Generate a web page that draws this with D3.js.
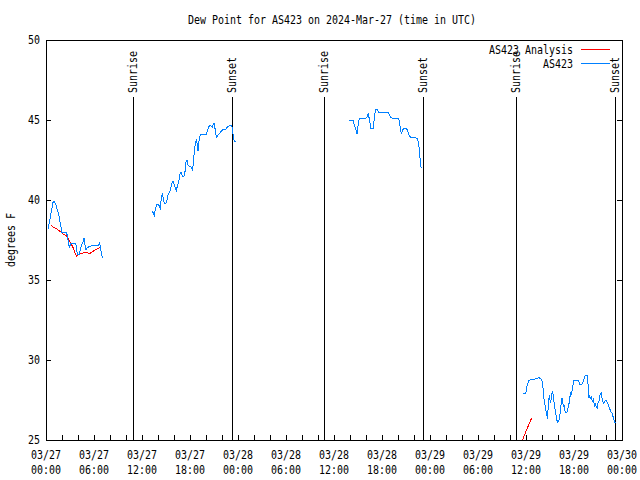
<!DOCTYPE html>
<html>
<head>
<meta charset="utf-8">
<script src="https://cdn.jsdelivr.net/npm/d3@7"></script>
<style>
  body { margin: 0; background: #fff; }
  text { font-family: "DejaVu Sans Mono", monospace; font-size: 12px; fill: #000; }
</style>
</head>
<body>
<svg id="chart" width="640" height="480"></svg>
<script>
const startTime = Date.UTC(2024, 2, 27, 0, 0);
const endTime = Date.UTC(2024, 2, 30, 0, 0);

// hours after 03/27 00:00 UTC, dew point in F
const obsHours1 = [0.25, 0.5, 0.875, 1.0, 1.25, 1.41, 1.63, 1.75, 1.88, 1.96, 2.54, 2.66, 2.79, 2.91, 3.09, 3.71, 3.84, 3.91, 4.16, 4.34, 4.63, 4.75, 4.91, 5.0, 5.16, 5.38, 5.79, 6.41, 6.63, 6.71, 6.84, 6.91, 7.04];
const obsDew1 = [38.17, 38.8, 39.86, 39.9, 39.7, 39.4, 39.0, 38.6, 38.3, 37.96, 37.96, 37.8, 37.4, 37.0, 37.3, 37.3, 36.9, 36.6, 36.6, 37.0, 37.4, 37.6, 37.1, 36.9, 37.0, 37.1, 37.15, 37.15, 37.2, 37.3, 37.0, 36.7, 36.4];

const obsHours2 = [13.25, 13.41, 13.54, 13.66, 13.84, 14.09, 14.21, 14.29, 14.41, 14.54, 14.66, 14.79, 15.0, 15.13, 15.29, 15.46, 15.59, 15.75, 15.88, 16.0, 16.16, 16.29, 16.41, 16.54, 16.66, 16.75, 16.88, 17.04, 17.25, 17.38, 17.5, 17.63, 17.75, 17.96, 18.16, 18.29, 18.41, 18.5, 18.59, 18.71, 18.84, 18.91, 19.0, 19.09, 19.16, 19.29, 20.04, 20.16, 20.29, 20.46, 20.66, 20.79, 20.88, 21.0, 21.13, 21.25, 21.34, 21.41, 21.59, 21.75, 21.91, 22.09, 22.41, 22.59, 22.75, 23.0, 23.16, 23.29, 23.41, 23.54, 23.79];
const obsDew2 = [39.29, 39.19, 39.04, 39.4, 39.7, 39.7, 39.54, 39.46, 40.1, 40.4, 40.1, 39.8, 39.8, 40.0, 40.4, 40.5, 40.75, 41.06, 41.2, 41.0, 40.75, 40.58, 40.86, 41.06, 41.33, 41.6, 41.75, 41.48, 41.48, 41.79, 42.4, 42.48, 42.2, 42.1, 42.04, 41.9, 42.2, 42.8, 43.25, 43.6, 43.83, 43.35, 43.08, 43.56, 43.77, 44.1, 44.1, 44.3, 44.5, 44.67, 44.6, 44.54, 44.7, 44.8, 44.46, 44.08, 43.88, 44.04, 44.1, 44.19, 44.3, 44.4, 44.4, 44.5, 44.6, 44.67, 44.67, 44.5, 43.98, 43.67, 43.67];

const obsHours3 = [37.88, 38.21, 38.38, 38.5, 38.63, 38.75, 38.88, 38.96, 39.04, 39.16, 39.88, 40.09, 40.21, 40.29, 40.38, 40.5, 40.63, 40.88, 41.0, 41.09, 41.21, 41.41, 41.54, 41.71, 42.79, 42.91, 43.09, 43.41, 44.04, 44.16, 44.29, 44.41, 44.54, 44.66, 45.09, 45.21, 45.34, 45.59, 46.04, 46.38, 46.5, 46.59, 46.66, 46.75, 46.84, 46.91];
const obsDew3 = [45.0, 45.0, 44.96, 44.73, 44.58, 44.38, 44.1, 44.48, 44.79, 45.1, 45.1, 45.15, 45.27, 45.42, 45.15, 44.79, 44.44, 44.44, 44.9, 45.36, 45.64, 45.64, 45.52, 45.44, 45.44, 45.36, 45.15, 45.1, 45.1, 44.94, 44.48, 44.17, 44.31, 44.44, 44.44, 44.31, 44.1, 43.9, 43.9, 43.85, 43.69, 43.48, 43.13, 42.6, 42.19, 41.98];

const obsHours4 = [59.63, 59.84, 60.0, 60.16, 60.34, 60.5, 60.75, 61.09, 61.41, 61.59, 61.75, 61.91, 62.04, 62.13, 62.21, 62.34, 62.46, 62.59, 62.66, 62.75, 62.84, 62.91, 63.0, 63.09, 63.16, 63.25, 63.34, 63.41, 63.5, 63.59, 63.66, 63.79, 63.91, 64.0, 64.09, 64.21, 64.34, 64.41, 64.5, 64.59, 64.66, 64.75, 64.84, 64.91, 65.09, 65.25, 65.38, 65.5, 65.59, 65.66, 65.79, 65.91, 66.0, 66.34, 66.5, 66.63, 66.75, 66.91, 67.09, 67.21, 67.34, 67.5, 67.63, 67.71, 67.79, 67.88, 67.96, 68.04, 68.16, 68.29, 68.41, 68.5, 68.59, 68.66, 68.79, 68.91, 69.0, 69.13, 69.25, 69.38, 69.46, 69.59, 69.71, 69.84, 70.0, 70.16, 70.34, 70.46, 70.59, 70.75, 70.88, 71.0, 71.09, 71.29];
const obsDew4 = [27.92, 27.88, 28.02, 28.44, 28.71, 28.75, 28.79, 28.81, 28.85, 28.92, 28.85, 28.79, 28.64, 28.23, 27.71, 27.29, 26.88, 26.67, 26.29, 26.88, 27.4, 27.81, 27.5, 27.33, 27.6, 27.92, 28.02, 27.75, 27.4, 27.08, 26.77, 26.46, 26.08, 26.25, 26.15, 26.46, 26.98, 27.4, 27.6, 27.4, 27.08, 27.19, 26.98, 26.71, 26.71, 26.98, 27.29, 27.71, 28.02, 27.81, 28.13, 28.54, 28.75, 28.71, 28.75, 28.64, 28.44, 28.44, 28.54, 28.75, 29.0, 29.06, 29.06, 28.75, 28.23, 27.6, 27.81, 27.54, 27.75, 27.4, 27.54, 27.29, 27.08, 27.29, 27.04, 26.98, 27.29, 27.46, 27.81, 27.96, 27.71, 27.4, 27.29, 27.4, 27.5, 27.33, 27.13, 26.98, 26.77, 26.67, 26.46, 26.25, 26.08, 26.08];

const anaHours1 = [0.66, 1.0, 1.41, 1.84, 2.16, 2.46, 2.75, 3.09, 3.41, 3.71, 3.84, 4.04, 4.34, 4.75, 5.16, 5.5, 5.79, 6.21, 6.63, 6.84];
const anaDew1 = [38.4, 38.27, 38.17, 38.0, 37.86, 37.8, 37.6, 37.3, 37.0, 36.6, 36.5, 36.6, 36.67, 36.7, 36.7, 36.67, 36.77, 36.9, 37.0, 37.1];

const anaHours2 = [59.5, 60.0, 60.69];
const anaDew2 = [24.9, 25.55, 26.35];

const sunriseHours = [10.9, 34.75, 58.75];
const sunsetHours = [23.25, 47.125, 71.15];
const yTicks = [25, 30, 35, 40, 45, 50];

const RED = "#ff0000";
const BLUE = "#0080ff";

const width = 640, height = 480;
const margin = { top: 40, right: 18, bottom: 40, left: 46 };
const charW = 6;

const svg = d3.select("#chart");

const x = d3.scaleUtc()
    .domain([new Date(startTime), new Date(endTime)])
    .range([margin.left, width - margin.right]);

const y = d3.scaleLinear()
    .domain([25, 50])
    .range([height - margin.bottom, margin.top]);

const toDate = h => new Date(startTime + h * 3600e3);
const pairs = (hs, vs) => hs.map((h, i) => ({ t: toDate(h), v: vs[i] }));

// clip for data
svg.append("clipPath").attr("id", "plot-clip")
    .append("rect")
    .attr("x", margin.left).attr("y", margin.top)
    .attr("width", width - margin.left - margin.right)
    .attr("height", height - margin.top - margin.bottom);

// Axes
const xAxis = svg.append("g")
    .attr("transform", `translate(0, ${height - margin.bottom})`)
    .call(d3.axisBottom(x)
        .ticks(d3.utcHour.every(2))
        .tickSize(-5)
        .tickFormat(""));
xAxis.select(".domain").remove();

const yAxis = svg.append("g")
    .attr("transform", `translate(${margin.left}, 0)`)
    .call(d3.axisLeft(y).tickValues(yTicks).tickSize(-5).tickPadding(6));
yAxis.select(".domain").remove();

svg.append("g")
    .attr("transform", `translate(${width - margin.right}, 0)`)
    .call(d3.axisRight(y).tickValues(yTicks).tickSize(-5).tickFormat(""))
    .select(".domain").remove();

svg.selectAll(".tick line").attr("stroke", "#000").attr("shape-rendering", "crispEdges");
yAxis.selectAll("text").style("font-size", null).attr("font-family", null);

// x labels, two lines
const labelTicks = d3.utcHour.every(6).range(new Date(startTime), new Date(endTime + 1));
const fmtDay = d3.utcFormat("%m/%d");
const fmtHour = d3.utcFormat("%H:%M");
labelTicks.forEach(d => {
    svg.append("text").attr("class", "fit")
        .attr("x", x(d)).attr("y", 459)
        .attr("text-anchor", "middle")
        .text(fmtDay(d));
    svg.append("text").attr("class", "fit")
        .attr("x", x(d)).attr("y", 474)
        .attr("text-anchor", "middle")
        .text(fmtHour(d));
});

// Frame
svg.append("rect")
    .attr("x", margin.left).attr("y", margin.top)
    .attr("width", width - margin.left - margin.right)
    .attr("height", height - margin.top - margin.bottom)
    .attr("fill", "none")
    .attr("stroke", "#000")
    .attr("shape-rendering", "crispEdges");

// Sunrise / sunset markers
const sunEvents = sunriseHours.map(h => ({ h, label: "Sunrise" }))
    .concat(sunsetHours.map(h => ({ h, label: "Sunset" })));
sunEvents.forEach(e => {
    const px = x(toDate(e.h));
    svg.append("line")
        .attr("x1", px).attr("x2", px)
        .attr("y1", 97).attr("y2", height - margin.bottom)
        .attr("stroke", "#000")
        .attr("shape-rendering", "crispEdges");
    svg.append("text").attr("class", "fit")
        .attr("transform", `translate(${px + 4}, 93) rotate(-90)`)
        .attr("text-anchor", "start")
        .text(e.label);
});

// Data lines
const line = d3.line()
    .x(d => x(d.t))
    .y(d => y(d.v));

const plot = svg.append("g").attr("clip-path", "url(#plot-clip)");

[[anaHours1, anaDew1], [anaHours2, anaDew2]].forEach(([hs, vs]) => {
    plot.append("path")
        .datum(pairs(hs, vs))
        .attr("fill", "none")
        .style("stroke", RED)
        .attr("stroke-width", 1)
        .attr("shape-rendering", "crispEdges")
        .attr("d", line);
});

[[obsHours1, obsDew1], [obsHours2, obsDew2], [obsHours3, obsDew3], [obsHours4, obsDew4]].forEach(([hs, vs]) => {
    plot.append("path")
        .datum(pairs(hs, vs))
        .attr("fill", "none")
        .style("stroke", BLUE)
        .attr("stroke-width", 1)
        .attr("shape-rendering", "crispEdges")
        .attr("d", line);
});

// Legend
const legendLabels = ["AS423 Analysis", "AS423"];
const legendColors = [RED, BLUE];
legendLabels.forEach((label, i) => {
    const ly = 49 + i * 14;
    svg.append("text").attr("class", "fit")
        .attr("x", 573).attr("y", ly + 5)
        .attr("text-anchor", "end")
        .text(label);
    svg.append("path")
        .attr("d", `M581,${ly + 0.5}H610`)
        .style("stroke", legendColors[i])
        .style("stroke-width", "1px")
        .attr("fill", "none");
});

// Title and y label
svg.append("text").attr("class", "fit")
    .attr("x", 332).attr("y", 24)
    .attr("text-anchor", "middle")
    .text("Dew Point for AS423 on 2024-Mar-27 (time in UTC)");

svg.append("text").attr("class", "fit")
    .attr("transform", "translate(15, 240) rotate(-90)")
    .attr("text-anchor", "middle")
    .text("degrees F");

// squeeze the font to the narrow 6px cell of the original
yAxis.selectAll("text").classed("fit", true);
svg.selectAll("text.fit").each(function () {
    const t = d3.select(this);
    t.attr("textLength", t.text().length * charW).attr("lengthAdjust", "spacingAndGlyphs");
});
</script>
</body>
</html>
